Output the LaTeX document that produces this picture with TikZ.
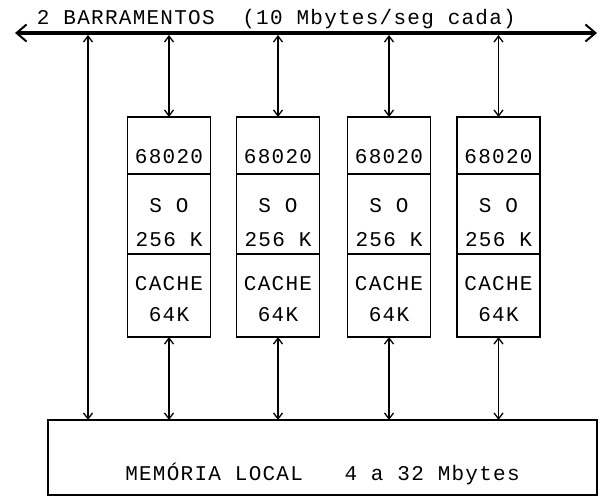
\documentclass[tikz,border=0pt]{standalone}
\usepackage{fontspec}
\newfontfamily\typefont{Liberation Mono}[LetterSpace=6]
\usetikzlibrary{arrows.meta,positioning}

\begin{document}
\begin{tikzpicture}[
  x=1pt,y=-1pt,
  >={Straight Barb[length=6pt,width=9pt]},
  every node/.style={font=\typefont\fontsize{21}{34}\selectfont,inner sep=0pt,outer sep=0pt},
  cell/.style={draw,line width=1.6pt,minimum width=83pt,align=center},
  link/.style={<->,line width=1.3pt},
  bus/.style={<->,line width=4pt,>={Straight Barb[length=10pt,width=17pt,line width=2pt]}}
]
  \useasboundingbox (0,0) rectangle (606,497);
  % barramento
  \coordinate (busL) at (15,33);
  \coordinate (busR) at (597,33);
  \coordinate (tap) at (88,33);
  \draw[bus] (busL) -- (busR);
  \node[anchor=base west] (buslabel) at (37,25)
    {2 BARRAMENTOS\ \ (10 Mbytes/seg cada)};
  % memoria
  \node[draw,line width=1.6pt,minimum width=549pt,text height=60pt,text depth=15pt,align=center,
    anchor=north] (mem) at (322.5,420) {MEMÓRIA LOCAL\ \ \ 4 a 32 Mbytes};
  % processadores
  \foreach \x [count=\i] in {169,278,389,498.5}{
    \node[cell,anchor=north,text height=47pt,text depth=10pt] (cpu\i) at (\x,117) {68020};
    \node[cell,below=0pt of cpu\i,text height=73pt,text depth=7pt] (so\i) {S O\\256 K};
    \node[cell,below=0pt of so\i,text height=68pt,text depth=15pt] (cache\i) {CACHE\\[-3pt]64K};
    \draw[link,shorten >=2pt] (cpu\i.north) -- (cpu\i.north |- busL);
    \draw[link] (cache\i.south) -- (cache\i.south |- mem.north);
  }
  \draw[link,shorten <=2pt] (tap) -- (tap |- mem.north);
\end{tikzpicture}
\end{document}
